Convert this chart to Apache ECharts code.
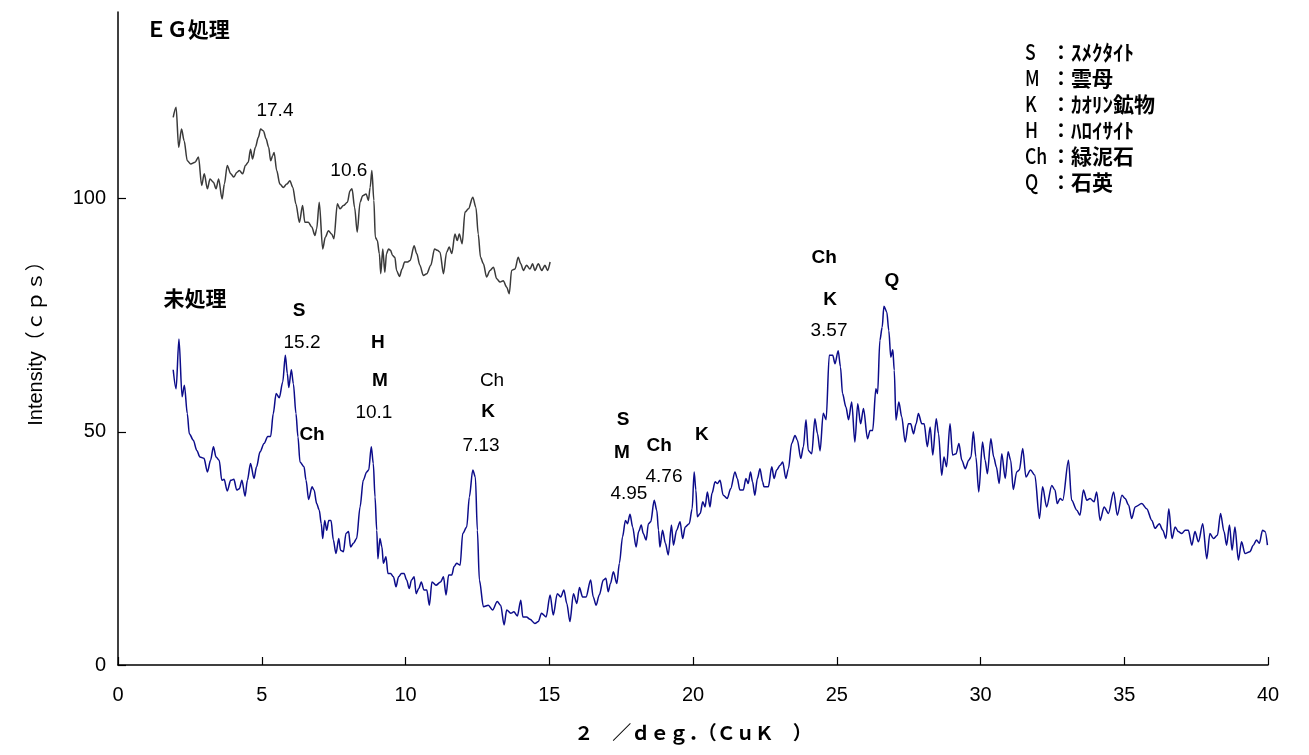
<!DOCTYPE html>
<html>
<head>
    <meta charset="utf-8">
    <title>XRD</title>
    <script src="https://cdn.jsdelivr.net/npm/echarts@6/dist/echarts.min.js"></script>
    <style>
        html, body { margin: 0; padding: 0; background: #fff; }
        #chart1 { width: 1309px; height: 755px; }
    </style>
</head>
<body>
<div id="chart1"></div>
<script>
    // 未処理 (2θ, cps)
    var untreated = [
        [1.92,63.3],[2.02,59.2],[2.12,69.9],[2.23,57.5],[2.31,60.0],[2.41,53.9],[2.48,49.6],[2.62,48.2],[2.74,46.0],[2.85,44.6],
        [2.99,44.3],[3.11,41.4],[3.22,43.9],[3.32,46.8],[3.41,44.6],[3.52,43.9],[3.61,39.6],[3.69,39.8],[3.80,37.3],[3.92,39.6],
        [4.03,39.8],[4.13,37.5],[4.22,37.8],[4.31,39.6],[4.42,36.2],[4.50,39.6],[4.61,43.2],[4.73,40.0],[4.82,42.5],[4.94,45.7],
        [5.08,47.5],[5.21,49.0],[5.31,49.0],[5.40,53.9],[5.50,58.2],[5.61,57.3],[5.73,60.7],[5.82,66.4],[5.89,62.5],[5.94,59.5],
        [6.03,63.3],[6.10,60.3],[6.19,53.9],[6.26,48.9],[6.33,43.5],[6.47,42.5],[6.54,39.6],[6.63,35.5],[6.75,38.2],[6.82,37.5],
        [6.91,34.6],[7.00,33.2],[7.07,30.3],[7.12,27.1],[7.19,31.0],[7.26,28.9],[7.33,31.0],[7.41,31.0],[7.49,26.8],[7.58,23.9],
        [7.68,27.1],[7.74,24.6],[7.84,24.3],[7.93,28.2],[8.02,28.6],[8.09,25.3],[8.19,26.1],[8.30,27.1],[8.42,33.9],[8.53,39.6],
        [8.65,41.4],[8.72,41.8],[8.81,46.8],[8.88,43.2],[8.94,36.0],[9.00,28.9],[9.04,22.8],[9.11,27.1],[9.18,25.3],[9.23,21.8],
        [9.32,23.2],[9.39,19.6],[9.48,19.6],[9.58,18.9],[9.67,16.8],[9.76,18.9],[9.86,19.6],[9.95,19.6],[10.04,18.2],[10.13,16.4],
        [10.21,18.2],[10.30,18.9],[10.37,15.3],[10.46,16.4],[10.55,17.8],[10.64,16.1],[10.74,16.1],[10.83,12.8],[10.92,17.8],[11.06,17.1],
        [11.22,17.8],[11.32,18.9],[11.41,15.0],[11.50,19.3],[11.61,19.3],[11.69,21.1],[11.78,21.8],[11.90,21.4],[11.99,28.2],[12.13,29.6],
        [12.22,36.0],[12.34,41.8],[12.43,40.3],[12.50,28.9],[12.57,18.2],
        [12.71,12.5],[12.88,12.8],[13.03,11.8],[13.19,13.6],[13.31,12.8],[13.43,8.6],[13.52,11.8],[13.66,11.1],[13.77,11.4],[13.89,10.5],
        [14.01,13.9],[14.08,10.3],[14.21,10.3],[14.33,9.8],[14.50,8.9],[14.62,9.3],[14.73,11.1],[14.89,10.3],[15.03,15.0],[15.14,10.7],
        [15.28,15.3],[15.40,14.6],[15.51,16.1],[15.61,13.2],[15.72,9.3],[15.84,15.3],[15.96,13.2],[16.05,16.6],[16.16,14.6],[16.28,14.6],
        [16.44,18.2],[16.53,14.6],[16.63,12.8],[16.74,15.0],[16.88,18.2],[16.97,18.6],[17.05,15.7],[17.13,17.5],[17.23,20.0],[17.35,17.5],
        [17.44,21.8],[17.55,27.5],[17.65,31.0],[17.72,30.3],[17.81,32.3],[17.90,29.6],[18.02,25.3],[18.11,28.6],[18.20,30.0],[18.27,28.2],
        [18.37,26.8],[18.45,30.3],[18.53,30.7],[18.65,35.3],[18.74,33.2],[18.80,28.9],[18.85,25.3],[18.94,28.9],[19.04,26.1],[19.14,23.6],
        [19.25,30.0],[19.32,25.7],[19.43,28.9],[19.55,30.7],[19.64,27.1],[19.73,29.6],[19.87,30.3],[19.97,33.5],[20.04,41.4],[20.10,37.5],
        [20.15,31.8],[20.25,32.5],[20.34,35.0],[20.42,33.9],[20.50,37.1],[20.59,33.9],[20.66,36.8],[20.77,39.3],[20.85,38.9],[20.94,39.6],
        [21.05,36.4],[21.19,35.7],[21.31,37.8],[21.46,41.4],[21.54,40.0],[21.63,37.5],[21.75,37.5],[21.84,40.0],[21.92,38.9],[22.00,41.4],
        [22.07,39.3],[22.15,36.4],[22.24,40.0],[22.33,42.1],[22.42,39.3],[22.47,38.2],[22.62,38.2],[22.74,42.5],[22.82,40.0],[22.91,41.8],
        [23.03,42.8],
        [23.12,43.5],[23.23,40.0],[23.32,42.1],[23.43,47.5],[23.55,49.2],[23.63,48.2],[23.75,44.3],[23.84,46.8],[23.93,52.6],[24.01,46.0],
        [24.13,45.3],[24.24,52.8],[24.33,49.6],[24.42,45.9],[24.53,54.0],[24.63,52.6],[24.74,66.4],[24.86,66.4],[24.94,64.6],[25.05,67.4],
        [25.13,63.9],[25.20,58.2],[25.32,55.3],[25.41,52.6],[25.52,56.4],[25.63,47.8],[25.73,56.0],[25.83,51.7],[25.93,55.0],[26.07,48.5],
        [26.16,50.3],[26.25,50.3],[26.36,59.2],[26.42,58.2],[26.50,69.6],[26.58,72.4],[26.64,76.9],[26.74,75.7],[26.81,71.7],[26.88,66.0],
        [26.95,67.6],[27.00,63.2],[27.06,52.5],[27.16,56.4],[27.26,53.2],[27.38,47.8],[27.49,51.7],[27.57,51.7],[27.67,49.6],[27.76,51.7],
        [27.84,53.9],[27.96,51.7],[28.04,51.7],[28.15,46.8],[28.25,51.0],[28.34,45.0],[28.46,52.8],[28.54,49.6],[28.65,40.7],[28.73,44.6],
        [28.82,42.5],[28.94,51.7],[29.03,45.0],[29.15,45.3],[29.25,47.5],[29.35,43.9],[29.47,42.1],[29.59,43.9],[29.67,44.6],[29.75,50.0],
        [29.84,44.6],[29.94,37.1],[30.07,47.8],[30.16,43.9],[30.24,41.0],[30.36,48.5],[30.46,44.6],[30.55,42.5],[30.65,38.9],[30.74,45.3],
        [30.86,40.0],[30.96,45.7],[31.05,43.9],[31.14,37.6],[31.26,41.4],[31.35,41.8],[31.47,46.4],[31.58,40.3],[31.74,41.8],[31.89,40.7],
        [32.05,31.4],[32.16,38.2],[32.30,33.9],[32.48,38.5],[32.59,37.5],[32.67,34.6],[32.77,35.7],[32.86,35.3],[33.06,43.9],[33.17,35.3],
        [33.35,33.2],[33.46,32.1],[33.58,37.5],[33.70,35.3],[33.81,35.7],[33.95,35.0],[34.04,37.1],[34.16,31.0],[34.30,33.9],[34.45,32.5],
        [34.63,37.1],[34.76,32.1],[34.92,36.4],[35.03,35.7],[35.15,34.3],[35.26,31.4],[35.38,33.9],[35.61,34.6],[35.78,33.5],[35.96,31.0],
        [36.07,29.3],[36.22,30.3],[36.34,28.9],[36.45,27.1],[36.55,33.5],[36.66,27.1],[36.77,29.6],[36.88,28.6],[37.00,28.2],[37.12,28.9],
        [37.23,28.9],[37.35,25.7],[37.46,28.6],[37.58,26.4],[37.73,30.3],[37.87,22.8],[37.98,28.2],[38.10,27.1],[38.24,27.8],[38.35,32.5],
        [38.47,28.6],[38.56,25.7],[38.66,30.0],[38.75,24.6],[38.85,29.6],[38.97,22.5],[39.08,26.4],[39.20,23.9],[39.37,24.3],[39.49,25.7],
        [39.60,26.8],[39.70,26.1],[39.81,28.9],[39.90,28.6],[39.98,25.7]
    ];

    // ＥＧ処理 (2θ, cps)
    var egTreated = [
        [1.92,117.4],[2.02,119.6],[2.11,111.0],[2.21,114.9],[2.30,112.4],[2.41,108.1],[2.53,107.4],[2.68,107.8],[2.80,108.9],[2.91,102.8],
        [3.00,105.3],[3.11,102.1],[3.20,104.2],[3.32,103.5],[3.41,102.1],[3.50,104.2],[3.62,99.9],[3.70,103.1],[3.80,107.1],[3.92,105.3],
        [4.03,104.6],[4.13,105.6],[4.22,106.0],[4.34,105.3],[4.43,107.1],[4.53,107.8],[4.61,110.6],[4.68,108.5],[4.78,111.0],[4.88,113.1],
        [4.96,114.9],[5.06,114.5],[5.15,112.8],[5.24,111.0],[5.31,108.1],[5.38,109.2],[5.43,109.9],[5.52,106.0],[5.63,103.1],[5.75,102.4],
        [5.87,103.1],[5.98,103.8],[6.08,102.4],[6.19,98.8],[6.31,94.9],[6.42,98.5],[6.50,94.9],[6.62,94.9],[6.74,93.9],[6.85,92.1],
        [6.91,93.5],[7.00,99.2],[7.12,89.2],[7.21,91.7],[7.32,93.1],[7.43,92.4],[7.51,91.4],[7.63,98.9],[7.72,97.8],[7.84,98.5],
        [7.98,99.2],[8.07,101.7],[8.14,102.1],[8.23,98.1],[8.32,92.8],[8.42,99.2],[8.51,100.6],[8.63,101.0],[8.71,99.6],[8.77,102.4],
        [8.83,106.0],[8.90,99.6],[8.95,91.7],[9.02,91.0],[9.09,88.2],[9.14,83.9],[9.21,89.2],[9.28,84.2],[9.34,88.2],[9.41,89.2],
        [9.48,88.9],[9.55,87.8],[9.63,87.4],[9.69,84.6],[9.79,83.3],[9.88,84.9],[9.97,86.4],[10.06,86.4],[10.16,86.7],[10.30,89.9],
        [10.39,88.2],[10.50,85.7],[10.62,83.5],[10.74,83.9],[10.88,85.7],[11.01,89.2],[11.11,88.9],[11.20,88.5],[11.32,83.9],[11.43,88.5],
        [11.52,89.6],[11.61,88.2],[11.72,92.4],[11.80,91.0],[11.87,92.4],[11.97,90.3],[12.07,97.1],[12.19,97.8],[12.34,100.3],[12.45,98.1],
        [12.53,92.4],[12.61,87.4],[12.71,86.0],[12.82,83.2],[12.94,84.6],[13.06,85.3],[13.17,82.8],[13.29,82.1],[13.40,82.4],[13.52,81.0],
        [13.61,79.6],[13.69,84.6],[13.81,84.9],[13.92,87.4],[14.01,86.0],[14.10,84.6],[14.21,85.7],[14.33,84.9],[14.42,86.0],[14.50,84.6],
        [14.62,86.0],[14.74,84.6],[14.85,85.7],[14.94,84.6],[15.03,86.4]
    ];

    var xTicks = [0, 5, 10, 15, 20, 25, 30, 35, 40];
    var yTicks = [0, 50, 100];

    // ピーク注記 (2θ, cps, 文字, 太字)
    var annX = [5.46, 8.03, 6.30, 6.40, 6.75, 9.04, 9.11, 8.90, 13.01, 12.87, 12.63, 17.57, 17.53, 18.82, 18.99, 17.77, 20.31, 24.56, 24.77, 24.73, 26.92];
    var annY = [118.8, 106.0, 76.0, 69.0, 49.3, 69.0, 61.0, 54.0, 61.0, 54.2, 46.9, 52.5, 45.4, 47.1, 40.3, 36.8, 49.3, 87.4, 78.2, 71.7, 82.4];
    var annText = ['17.4', '10.6', 'S', '15.2', 'Ch', 'H', 'M', '10.1', 'Ch', 'K', '7.13', 'S', 'M', 'Ch', '4.76', '4.95', 'K', 'Ch', 'K', '3.57', 'Q'];
    var annBold = [0, 0, 1, 0, 1, 1, 1, 0, 0, 1, 0, 1, 1, 1, 0, 0, 1, 1, 1, 0, 1];

    var titleX = [2.43, 2.68];
    var titleY = [136.4, 78.6];
    var titleText = ['ＥＧ処理', '未処理'];

    var legendKeys = ['S', 'M', 'K', 'H', 'Ch', 'Q'];
    var legendNames = ['ｽﾒｸﾀｲﾄ', '雲母', 'ｶｵﾘﾝ鉱物', 'ﾊﾛｲｻｲﾄ', '緑泥石', '石英'];

    var jpFont = '"Noto Sans CJK JP", sans-serif';
    var enFont = '"Liberation Sans", Arial, "Noto Sans CJK JP", sans-serif';

    var annData = [];
    for (var i = 0; i < annText.length; i++) {
        annData.push({
            value: [annX[i], annY[i], annText[i]],
            label: {fontWeight: annBold[i] ? 'bold' : 'normal'}
        });
    }
    var titleData = [];
    for (var j = 0; j < titleText.length; j++) {
        titleData.push({value: [titleX[j], titleY[j], titleText[j]]});
    }

    // 凡例（右上の鉱物記号）
    var legendGraphic = [];
    for (var k = 0; k < legendKeys.length; k++) {
        var rowY = 52 + k * 26;
        legendGraphic.push({
            type: 'text', x: 1025, y: rowY, scaleX: 0.8,
            style: {text: legendKeys[k], fontSize: 22, fontWeight: 500, fontFamily: jpFont, fill: '#000', verticalAlign: 'middle'}
        });
        legendGraphic.push({
            type: 'text', x: 1051, y: rowY,
            style: {text: '：', fontSize: 20, fontWeight: 'bold', fontFamily: jpFont, fill: '#000', verticalAlign: 'middle'}
        });
        legendGraphic.push({
            type: 'text', x: 1071, y: rowY,
            style: {text: legendNames[k], fontSize: 21, fontWeight: 'bold', fontFamily: jpFont, fill: '#000', verticalAlign: 'middle'}
        });
    }

    // 注記用ラベル系列（点は描かない）
    function labelSeries(data, size, family, weight) {
        return {
            type: 'scatter',
            data: data,
            symbolSize: 1,
            silent: true,
            itemStyle: {color: '#000', opacity: 0},
            emphasis: {disabled: true},
            label: {
                show: true,
                position: 'inside',
                fontSize: size,
                fontFamily: family,
                fontWeight: weight,
                color: '#000',
                opacity: 1,
                textBorderWidth: 0,
                formatter: function (p) { return p.value[2]; }
            },
            z: 5
        };
    }

    var myChart1 = echarts.init(document.getElementById('chart1'));
    myChart1.setOption({
        animation: false,
        backgroundColor: '#fff',
        grid: {left: 118, right: 41, top: 12, bottom: 90},
        graphic: legendGraphic,
        xAxis: {
            type: 'value',
            min: 0,
            max: 40,
            interval: 5,
            name: '２　／ｄｅｇ．（ＣｕＫ　）',
            nameLocation: 'middle',
            nameGap: 58,
            nameTextStyle: {fontSize: 19, fontWeight: 'bold', fontFamily: jpFont, color: '#000'},
            axisLine: {onZero: false, lineStyle: {color: '#000', width: 1.5}},
            axisTick: {inside: true, length: 8, lineStyle: {color: '#000', width: 1.2}, customValues: xTicks},
            axisLabel: {fontSize: 20, fontFamily: enFont, color: '#000', margin: 20, customValues: xTicks},
            splitLine: {show: false}
        },
        yAxis: {
            type: 'value',
            min: 0,
            max: 140,
            name: 'Intensity（ｃｐｓ）',
            nameLocation: 'middle',
            nameGap: 72,
            nameRotate: 90,
            nameTextStyle: {fontSize: 20, fontFamily: enFont, color: '#000'},
            axisLine: {show: true, lineStyle: {color: '#000', width: 1.5}},
            axisTick: {show: true, inside: true, length: 8, lineStyle: {color: '#000', width: 1.2}, customValues: yTicks},
            axisLabel: {fontSize: 20, fontFamily: enFont, color: '#000', margin: 12, customValues: yTicks},
            splitLine: {show: false}
        },
        series: [
            {
                name: '未処理',
                type: 'line',
                data: untreated,
                showSymbol: false,
                smooth: 0.3,
                smoothMonotone: 'x',
                lineStyle: {color: '#0c0c8a', width: 1.5},
                itemStyle: {color: '#0c0c8a'}
            },
            {
                name: 'ＥＧ処理',
                type: 'line',
                data: egTreated,
                showSymbol: false,
                smooth: 0.3,
                smoothMonotone: 'x',
                lineStyle: {color: '#3a3a3a', width: 1.5},
                itemStyle: {color: '#3a3a3a'}
            },
            labelSeries(annData, 19, enFont, 'normal'),
            labelSeries(titleData, 21, jpFont, 'bold')
        ]
    });
</script>
</body>
</html>
